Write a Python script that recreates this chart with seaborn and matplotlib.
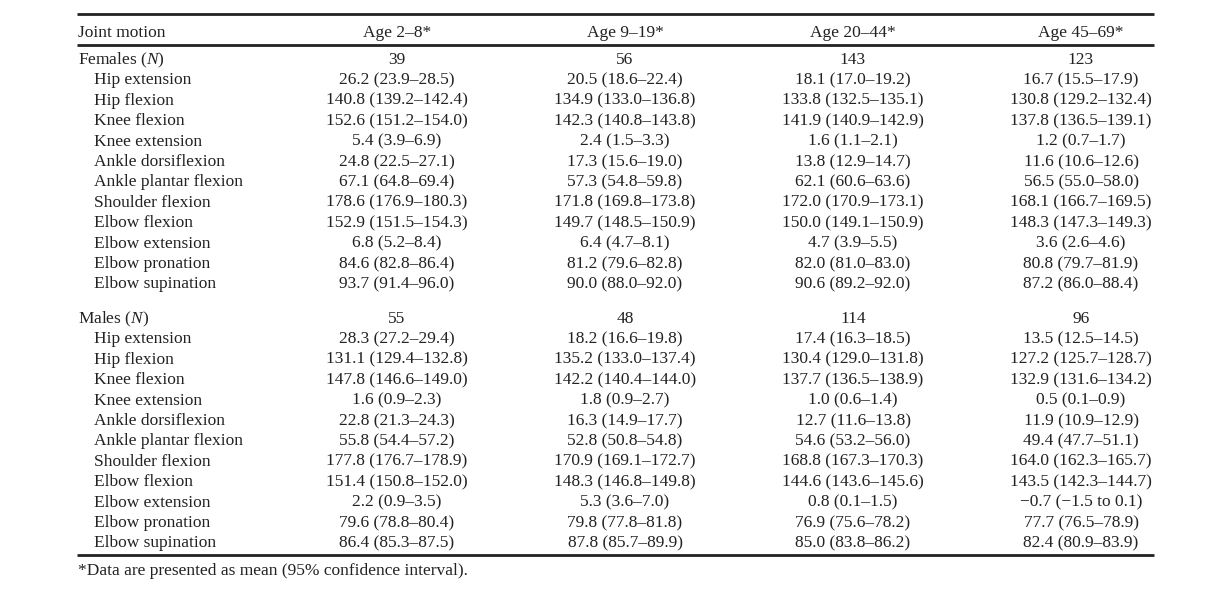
import matplotlib
matplotlib.use("Agg")
import matplotlib.pyplot as plt
import seaborn as sns
import pandas as pd

# column headers and row labels
ages = ["Age 2–8*", "Age 9–19*", "Age 20–44*", "Age 45–69*"]
motions = ["Hip extension", "Hip flexion", "Knee flexion", "Knee extension",
           "Ankle dorsiflexion", "Ankle plantar flexion", "Shoulder flexion",
           "Elbow flexion", "Elbow extension", "Elbow pronation", "Elbow supination"]

female_n = [39, 56, 143, 123]
male_n = [55, 48, 114, 96]

# one inner list per age group, same order as motions
female_mean = [
    [26.2, 140.8, 152.6, 5.4, 24.8, 67.1, 178.6, 152.9, 6.8, 84.6, 93.7],
    [20.5, 134.9, 142.3, 2.4, 17.3, 57.3, 171.8, 149.7, 6.4, 81.2, 90.0],
    [18.1, 133.8, 141.9, 1.6, 13.8, 62.1, 172.0, 150.0, 4.7, 82.0, 90.6],
    [16.7, 130.8, 137.8, 1.2, 11.6, 56.5, 168.1, 148.3, 3.6, 80.8, 87.2],
]
female_lo = [
    [23.9, 139.2, 151.2, 3.9, 22.5, 64.8, 176.9, 151.5, 5.2, 82.8, 91.4],
    [18.6, 133.0, 140.8, 1.5, 15.6, 54.8, 169.8, 148.5, 4.7, 79.6, 88.0],
    [17.0, 132.5, 140.9, 1.1, 12.9, 60.6, 170.9, 149.1, 3.9, 81.0, 89.2],
    [15.5, 129.2, 136.5, 0.7, 10.6, 55.0, 166.7, 147.3, 2.6, 79.7, 86.0],
]
female_hi = [
    [28.5, 142.4, 154.0, 6.9, 27.1, 69.4, 180.3, 154.3, 8.4, 86.4, 96.0],
    [22.4, 136.8, 143.8, 3.3, 19.0, 59.8, 173.8, 150.9, 8.1, 82.8, 92.0],
    [19.2, 135.1, 142.9, 2.1, 14.7, 63.6, 173.1, 150.9, 5.5, 83.0, 92.0],
    [17.9, 132.4, 139.1, 1.7, 12.6, 58.0, 169.5, 149.3, 4.6, 81.9, 88.4],
]
male_mean = [
    [28.3, 131.1, 147.8, 1.6, 22.8, 55.8, 177.8, 151.4, 2.2, 79.6, 86.4],
    [18.2, 135.2, 142.2, 1.8, 16.3, 52.8, 170.9, 148.3, 5.3, 79.8, 87.8],
    [17.4, 130.4, 137.7, 1.0, 12.7, 54.6, 168.8, 144.6, 0.8, 76.9, 85.0],
    [13.5, 127.2, 132.9, 0.5, 11.9, 49.4, 164.0, 143.5, -0.7, 77.7, 82.4],
]
male_lo = [
    [27.2, 129.4, 146.6, 0.9, 21.3, 54.4, 176.7, 150.8, 0.9, 78.8, 85.3],
    [16.6, 133.0, 140.4, 0.9, 14.9, 50.8, 169.1, 146.8, 3.6, 77.8, 85.7],
    [16.3, 129.0, 136.5, 0.6, 11.6, 53.2, 167.3, 143.6, 0.1, 75.6, 83.8],
    [12.5, 125.7, 131.6, 0.1, 10.9, 47.7, 162.3, 142.3, -1.5, 76.5, 80.9],
]
male_hi = [
    [29.4, 132.8, 149.0, 2.3, 24.3, 57.2, 178.9, 152.0, 3.5, 80.4, 87.5],
    [19.8, 137.4, 144.0, 2.7, 17.7, 54.8, 172.7, 149.8, 7.0, 81.8, 89.9],
    [18.5, 131.8, 138.9, 1.4, 13.8, 56.0, 170.3, 145.6, 1.5, 78.2, 86.2],
    [14.5, 128.7, 134.2, 0.9, 12.9, 51.1, 165.7, 144.7, 0.1, 78.9, 83.9],
]


def num(v):
    return f"{v:.1f}".replace("-", "\u2212")


def cell(m, lo, hi):
    sep = " to " if lo < 0 else "–"
    return f"{num(m)} ({num(lo)}{sep}{num(hi)})"


rows = []
for sex, means, los, his in [("Females", female_mean, female_lo, female_hi),
                             ("Males", male_mean, male_lo, male_hi)]:
    for j in range(len(ages)):
        for i, motion in enumerate(motions):
            rows.append({"sex": sex, "col": j, "row": i, "motion": motion,
                         "text": cell(means[j][i], los[j][i], his[j][i])})
df = pd.DataFrame(rows)

sns.set_theme(style="white")
plt.rcParams["font.family"] = ["Liberation Serif", "DejaVu Serif"]
plt.rcParams["mathtext.fontset"] = "custom"
plt.rcParams["mathtext.rm"] = "Liberation Serif"
plt.rcParams["mathtext.it"] = "Liberation Serif:italic"

fig = plt.figure(figsize=(12.08, 6.02), dpi=100)
ax = fig.add_axes([0, 0, 1, 1])
ax.set_xlim(0, 1208)
ax.set_ylim(602, 0)
ax.axis("off")

fs = 12.5
ink = "#222222"
left, indent, right = 77, 94, 1154
col_x = [397 + 228 * j for j in range(len(ages))]
step = 20.4
base = 5  # baseline offset below the visual row centre

# rules
for y, lw in [(13.5, 2.0), (44.5, 2.0), (554.5, 2.0)]:
    ax.plot([left, right], [y, y], color=ink, lw=lw, solid_capstyle="butt")

# header
ax.text(left + 1, 32 + base, "Joint motion", fontsize=fs, color=ink, va="baseline")
for x, a in zip(col_x, ages):
    ax.text(x, 32 + base, a, fontsize=fs, color=ink, ha="center", va="baseline")

# groups
group_top = {"Females": 59, "Males": 318}
group_n = {"Females": female_n, "Males": male_n}
for sex, y0 in group_top.items():
    ax.text(left + 1, y0 + base, sex + " ($N$)", fontsize=fs, color=ink, va="baseline")
    for x, n in zip(col_x, group_n[sex]):
        ax.text(x, y0 + base, str(n), fontsize=fs, color=ink, ha="center", va="baseline")
    for i, motion in enumerate(motions):
        ax.text(indent, y0 + step * (i + 1) + base, motion, fontsize=fs, color=ink,
                va="baseline")
    sub = df[df["sex"] == sex]
    for _, r in sub.iterrows():
        ax.text(col_x[r["col"]], y0 + step * (r["row"] + 1) + base, r["text"],
                fontsize=fs, color=ink, ha="center", va="baseline")

ax.text(left + 1, 570 + base, "*Data are presented as mean (95% confidence interval).",
        fontsize=fs, color=ink, va="baseline")

fig.savefig("out.png", dpi=100)
